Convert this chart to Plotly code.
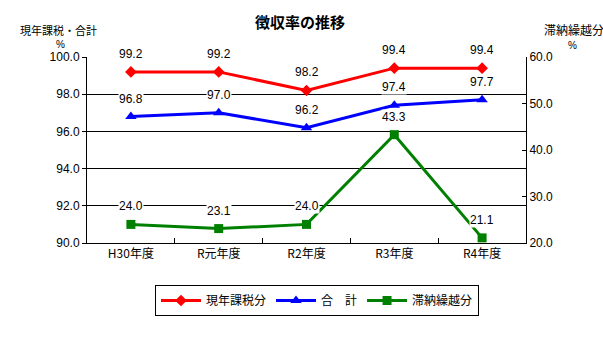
import plotly.graph_objects as go

# 年度ごとの徴収率
years = ["H30年度", "R元年度", "R2年度", "R3年度", "R4年度"]
current_tax = [99.2, 99.2, 98.2, 99.4, 99.4]      # 現年課税分（左軸）
total_rate = [96.8, 97.0, 96.2, 97.4, 97.7]       # 合計（左軸）
arrears_rate = [24.0, 23.1, 24.0, 43.3, 21.1]     # 滞納繰越分（右軸）

FONT = "Liberation Sans, Noto Sans CJK JP, sans-serif"
CJK = "Noto Sans CJK JP, sans-serif"

# プロット領域（ピクセル）
PL, PR, PT, PB = 87, 526, 57, 243


def px_x(x):
    return (x - PL) / (PR - PL)


def px_y(y):
    return (PB - y) / (PB - PT)


fig = go.Figure()

fig.add_trace(go.Scatter(
    x=years, y=current_tax, name="現年課税分", mode="lines+markers",
    line=dict(color="#ff0000", width=3),
    marker=dict(symbol="diamond", size=9, color="#ff0000"),
))
fig.add_trace(go.Scatter(
    x=years, y=total_rate, name="合　計", mode="lines+markers",
    line=dict(color="#0000ff", width=3),
    marker=dict(symbol="triangle-up", size=10, color="#0000ff"),
))
fig.add_trace(go.Scatter(
    x=years, y=arrears_rate, name="滞納繰越分", mode="lines+markers",
    yaxis="y2",
    line=dict(color="#008000", width=3),
    marker=dict(symbol="square", size=9, color="#008000"),
))

# 値ラベル（白背景でグリッド線を隠す）
annotations = []
for series, yref in ((current_tax, "y"), (total_rate, "y"), (arrears_rate, "y2")):
    for xv, yv in zip(years, series):
        annotations.append(dict(
            x=xv, y=yv, xref="x", yref=yref, text=f"{yv:.1f}",
            showarrow=False, yshift=18, bgcolor="white", borderpad=0,
            xanchor="center", yanchor="middle",
            font=dict(family=FONT, size=12, color="black"),
        ))

# タイトルと軸タイトル
for text, x, y, fam, size in (
    ("<b>徴収率の推移</b>", 300, 22, CJK, 15),
    ("現年課税・合計", 58, 30, CJK, 11),
    ("%", 60, 44, FONT, 10),
    ("滞納繰越分", 574, 30, CJK, 12),
    ("%", 572, 45, FONT, 10),
):
    annotations.append(dict(
        text=text, x=px_x(x), y=px_y(y), xref="paper", yref="paper",
        xanchor="center", yanchor="middle", showarrow=False,
        font=dict(family=fam, size=size, color="black"),
    ))

fig.update_layout(
    width=603, height=340,
    margin=dict(l=PL, r=603 - PR, t=PT, b=340 - PB),
    paper_bgcolor="white", plot_bgcolor="white",
    font=dict(family=FONT, size=12, color="black"),
    showlegend=True,
    annotations=annotations,
    legend=dict(
        orientation="h", x=px_x(317), xanchor="center",
        y=px_y(285), yanchor="top",
        bordercolor="black", borderwidth=1, bgcolor="white",
        font=dict(family=CJK, size=12, color="black"),
        itemwidth=40, tracegroupgap=0,
    ),
    xaxis=dict(
        type="category", range=[-0.5, 4.5], tickson="boundaries",
        ticks="inside", ticklen=5, tickcolor="black",
        showline=True, linecolor="black", linewidth=1, showgrid=False,
        tickfont=dict(family=CJK, size=12), zeroline=False,
    ),
    yaxis=dict(
        range=[90, 100], dtick=2, tickformat=".1f",
        ticks="outside", ticklen=4, tickcolor="black",
        showline=True, linecolor="black", linewidth=1,
        showgrid=True, gridcolor="black", gridwidth=1, zeroline=False,
        tickfont=dict(size=12),
    ),
    yaxis2=dict(
        range=[20, 60], dtick=10, tickformat=".1f", overlaying="y", side="right",
        ticks="inside", ticklen=4, tickcolor="black",
        showline=True, linecolor="black", linewidth=1,
        showgrid=False, zeroline=False, tickfont=dict(size=12),
    ),
)

fig.write_html("out.html")
